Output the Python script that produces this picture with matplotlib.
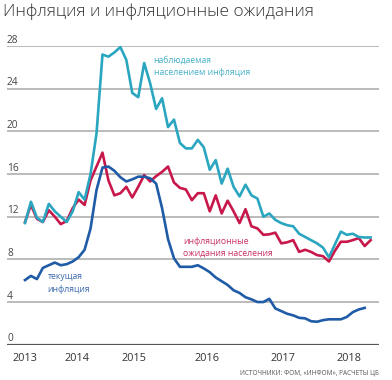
import numpy as np
import matplotlib.pyplot as plt

plt.rcParams['font.family'] = ['Open Sans', 'DejaVu Sans']

# monthly points, index 0 = first observation
observed = [11.4, 13.4, 11.9, 11.5, 13.2, 12.5, 12.0, 11.5, 12.5, 14.3,
            13.6, 16.0, 19.8, 27.2, 27.0, 27.4, 27.9, 26.7, 23.6, 23.2,
            26.4, 24.5, 22.1, 23.1, 20.4, 21.1, 18.9, 18.4, 18.4, 19.2,
            18.5, 16.4, 17.3, 15.1, 16.5, 14.8, 13.9, 15.0, 14.0, 13.7,
            12.0, 12.3, 11.7, 11.4, 11.2, 11.1, 10.4, 10.1, 9.8, 9.5,
            9.1, 8.2, 9.4, 10.6, 10.3, 10.4, 10.1, 10.05, 10.05]
expected = [11.5, 13.1, 11.8, 11.5, 12.6, 12.0, 11.3, 11.6, 12.8, 13.6,
            13.1, 15.4, 16.7, 18.0, 15.4, 14.0, 14.2, 14.8, 13.8, 14.8,
            15.9, 15.3, 15.8, 16.2, 16.7, 15.2, 14.7, 14.55, 13.55, 14.2,
            14.2, 12.5, 14.0, 12.3, 13.5, 12.5, 11.4, 12.7, 11.1, 10.9,
            10.3, 10.35, 10.5, 9.5, 9.6, 9.8, 8.7, 8.9, 8.7, 8.4,
            8.3, 7.8, 8.8, 9.65, 9.65, 9.8, 10.0, 9.25, 9.8]
current = [6.06, 6.45, 6.15, 7.2, 7.45, 7.7, 7.45, 7.55, 7.8, 8.2,
           8.9, 10.9, 14.5, 16.6, 16.7, 16.3, 15.7, 15.3, 15.5, 15.75,
           15.75, 15.6, 15.1, 12.8, 9.9, 8.1, 7.3, 7.3, 7.3, 7.45,
           7.15, 6.8, 6.3, 5.95, 5.6, 5.1, 4.85, 4.45, 4.25, 4.0,
           4.0, 4.3, 3.4, 3.15, 2.9, 2.75, 2.52, 2.47, 2.2, 2.15,
           2.3, 2.38, 2.38, 2.38, 2.6, 3.05, 3.3, 3.45]

year_labels = ['2013', '2014', '2015', '2016', '2017', '2018']
year_pos = [0, 8.7, 18.2, 30.5, 43.3, 54.3]
y_ticks = [0, 4, 8, 12, 16, 20, 24, 28]

TEAL = '#2aa6c0'
RED = '#c8174a'
BLUE = '#1f5ba6'

fig = plt.figure(figsize=(3.92, 3.80), dpi=100)
ax = fig.add_axes([7 / 392, 35.3 / 380, 372 / 392, 298.7 / 380])
ax.set_xlim(-3.02, 59.4)
ax.set_ylim(0, 28)
ax.axis('off')

for v in y_ticks[1:]:
    ax.axhline(v, color='#a8a8a8', lw=1.1, zorder=1)
ax.axhline(0, color='#555555', lw=1.6, zorder=1)

for v in y_ticks:
    ax.text(0, v + 0.3, str(v), transform=ax.get_yaxis_transform(),
            ha='left', va='baseline', fontsize=7.3, color='#444444')

x = np.arange(len(observed))
ax.plot(x, expected, color=RED, lw=1.9, zorder=3, solid_joinstyle='round')
ax.plot(np.arange(len(current)), current, color=BLUE, lw=1.9, zorder=4,
        solid_joinstyle='round')
ax.plot(x, observed, color=TEAL, lw=1.9, zorder=5, solid_joinstyle='round',
        clip_on=False)

for pos, lab in zip(year_pos, year_labels):
    ax.text(pos, -0.75, lab, ha='center', va='top', fontsize=7.8,
            color='#333333')

ax.text(21.6, 26.1, 'наблюдаемая\nнаселением инфляция', color='#45afc6',
        fontsize=6.2, ha='left', va='center', linespacing=1.45)
ax.text(26.5, 9.13, 'инфляционные\nожидания населения', color='#c93060',
        fontsize=6.2, ha='left', va='center', linespacing=1.45)
ax.text(3.8, 5.78, 'текущая\nинфляция', color='#3a68ad',
        fontsize=6.2, ha='left', va='center', linespacing=1.45)

fig.text(3 / 392, 1 - 4 / 380, 'Инфляция и инфляционные ожидания',
         ha='left', va='top', fontsize=12.4, fontweight='light',
         color='#333333')
fig.text(379 / 392, 7.3 / 380, 'ИСТОЧНИКИ: ФОМ, «ИНФОМ», РАСЧЕТЫ ЦБ',
         ha='right', va='center', fontsize=4.7, color='#555555')

fig.savefig('out.png', dpi=100)
